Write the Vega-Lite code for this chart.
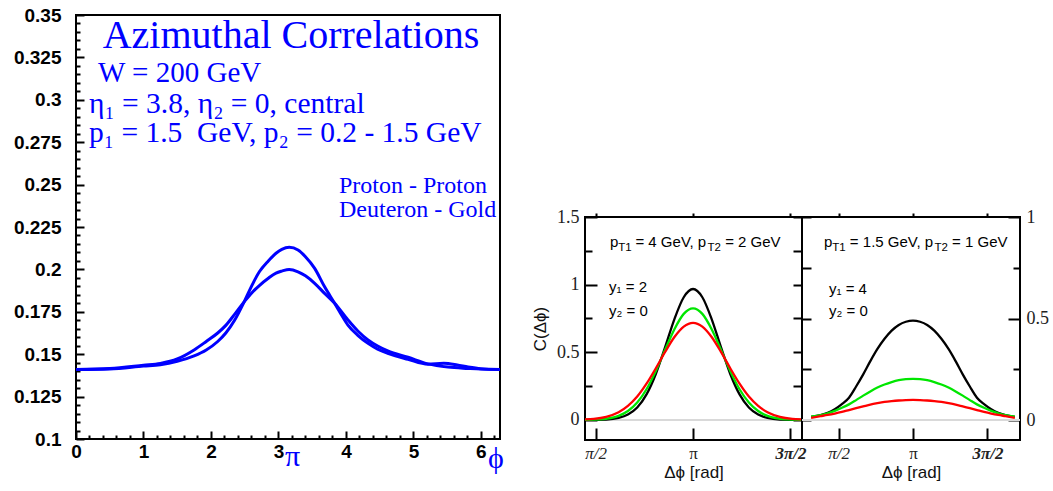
{
  "$schema": "https://vega.github.io/schema/vega-lite/v6.json",
  "background": "white",
  "padding": {"left": 12, "top": 5, "right": 0, "bottom": 0},
  "spacing": 23,
  "config": {
    "view": {"stroke": "black", "strokeWidth": 2},
    "axis": {"domain": false, "grid": false, "ticks": true, "tickOpacity": 1, "zindex": 1, "labelFlush": false, "labelOverlap": false, "tickColor": "black", "tickWidth": 2, "titleFontWeight": "normal", "titleColor": "#111"}
  },
  "datasets": {
    "left": [
      {"phi": 0, "v": 0.141, "s": "A"}, {"phi": 0.5, "v": 0.1413, "s": "A"}, {"phi": 1.0, "v": 0.143, "s": "A"}, {"phi": 1.25, "v": 0.1438, "s": "A"}, {"phi": 1.5, "v": 0.1458, "s": "A"}, {"phi": 1.75, "v": 0.149, "s": "A"}, {"phi": 1.93, "v": 0.1525, "s": "A"}, {"phi": 2.1, "v": 0.1575, "s": "A"}, {"phi": 2.22, "v": 0.1625, "s": "A"}, {"phi": 2.35, "v": 0.17, "s": "A"}, {"phi": 2.494, "v": 0.181, "s": "A"}, {"phi": 2.6, "v": 0.19, "s": "A"}, {"phi": 2.717, "v": 0.1986, "s": "A"}, {"phi": 2.85, "v": 0.205, "s": "A"}, {"phi": 2.964, "v": 0.2095, "s": "A"}, {"phi": 3.05, "v": 0.2118, "s": "A"}, {"phi": 3.16, "v": 0.213, "s": "A"}, {"phi": 3.29, "v": 0.2114, "s": "A"}, {"phi": 3.4, "v": 0.2075, "s": "A"}, {"phi": 3.537, "v": 0.2006, "s": "A"}, {"phi": 3.68, "v": 0.19, "s": "A"}, {"phi": 3.833, "v": 0.18, "s": "A"}, {"phi": 3.93, "v": 0.1735, "s": "A"}, {"phi": 4.03, "v": 0.1672, "s": "A"}, {"phi": 4.18, "v": 0.161, "s": "A"}, {"phi": 4.327, "v": 0.1564, "s": "A"}, {"phi": 4.47, "v": 0.153, "s": "A"}, {"phi": 4.62, "v": 0.1505, "s": "A"}, {"phi": 4.92, "v": 0.147, "s": "A"}, {"phi": 5.216, "v": 0.1441, "s": "A"}, {"phi": 5.45, "v": 0.1446, "s": "A"}, {"phi": 5.65, "v": 0.1436, "s": "A"}, {"phi": 5.81, "v": 0.1424, "s": "A"}, {"phi": 6.0, "v": 0.1414, "s": "A"}, {"phi": 6.283, "v": 0.141, "s": "A"},
      {"phi": 0, "v": 0.141, "s": "B"}, {"phi": 0.5, "v": 0.1415, "s": "B"}, {"phi": 1.0, "v": 0.1435, "s": "B"}, {"phi": 1.25, "v": 0.1446, "s": "B"}, {"phi": 1.5, "v": 0.1472, "s": "B"}, {"phi": 1.75, "v": 0.1525, "s": "B"}, {"phi": 1.93, "v": 0.1575, "s": "B"}, {"phi": 2.1, "v": 0.1625, "s": "B"}, {"phi": 2.22, "v": 0.167, "s": "B"}, {"phi": 2.35, "v": 0.1735, "s": "B"}, {"phi": 2.494, "v": 0.181, "s": "B"}, {"phi": 2.6, "v": 0.186, "s": "B"}, {"phi": 2.717, "v": 0.1905, "s": "B"}, {"phi": 2.85, "v": 0.1948, "s": "B"}, {"phi": 2.964, "v": 0.1978, "s": "B"}, {"phi": 3.05, "v": 0.199, "s": "B"}, {"phi": 3.16, "v": 0.2, "s": "B"}, {"phi": 3.29, "v": 0.1986, "s": "B"}, {"phi": 3.4, "v": 0.1962, "s": "B"}, {"phi": 3.537, "v": 0.1918, "s": "B"}, {"phi": 3.68, "v": 0.186, "s": "B"}, {"phi": 3.833, "v": 0.18, "s": "B"}, {"phi": 4.03, "v": 0.1702, "s": "B"}, {"phi": 4.18, "v": 0.1635, "s": "B"}, {"phi": 4.327, "v": 0.1584, "s": "B"}, {"phi": 4.47, "v": 0.1548, "s": "B"}, {"phi": 4.62, "v": 0.1519, "s": "B"}, {"phi": 4.92, "v": 0.1482, "s": "B"}, {"phi": 5.216, "v": 0.1443, "s": "B"}, {"phi": 5.513, "v": 0.1424, "s": "B"}, {"phi": 5.81, "v": 0.1416, "s": "B"}, {"phi": 6.0, "v": 0.1412, "s": "B"}, {"phi": 6.283, "v": 0.141, "s": "B"}
    ],
    "leftTitle": [{"phi": 3.186, "v": 0.3305, "t": "Azimuthal Correlations"}],
    "leftW": [{"phi": 0.326, "v": 0.3105, "t": "W = 200 GeV"}],
    "leftKin": [{"phi": 0.193, "v": 0.2922, "t": "η₁ = 3.8, η₂ = 0, central"}, {"phi": 0.193, "v": 0.2751, "t": "p₁ = 1.5\u00a0 GeV, p₂ = 0.2 - 1.5 GeV"}],
    "leftLeg": [{"phi": 3.897, "v": 0.245, "t": "Proton - Proton"}, {"phi": 3.897, "v": 0.2309, "t": "Deuteron - Gold"}],
    "leftSym": [{"phi": 3.211, "v": 0.0841, "t": "π"}, {"phi": 6.224, "v": 0.0829, "t": "ϕ"}],
    "r1": [
      {"phi": 1.4016, "c": 0.0, "curve": "black"}, {"phi": 1.5416, "c": 0.001, "curve": "black"}, {"phi": 1.7416, "c": 0.003, "curve": "black"}, {"phi": 1.9416, "c": 0.015, "curve": "black"}, {"phi": 2.0916, "c": 0.04, "curve": "black"}, {"phi": 2.2416, "c": 0.092, "curve": "black"}, {"phi": 2.3916, "c": 0.189, "curve": "black"}, {"phi": 2.5416, "c": 0.34, "curve": "black"}, {"phi": 2.6916, "c": 0.538, "curve": "black"}, {"phi": 2.8416, "c": 0.746, "curve": "black"}, {"phi": 2.9916, "c": 0.907, "curve": "black"}, {"phi": 3.1416, "c": 0.968, "curve": "black"}, {"phi": 3.2916, "c": 0.907, "curve": "black"}, {"phi": 3.4416, "c": 0.746, "curve": "black"}, {"phi": 3.5916, "c": 0.538, "curve": "black"}, {"phi": 3.7416, "c": 0.34, "curve": "black"}, {"phi": 3.8916, "c": 0.189, "curve": "black"}, {"phi": 4.0416, "c": 0.092, "curve": "black"}, {"phi": 4.1916, "c": 0.04, "curve": "black"}, {"phi": 4.3416, "c": 0.015, "curve": "black"}, {"phi": 4.5416, "c": 0.003, "curve": "black"}, {"phi": 4.7416, "c": 0.001, "curve": "black"}, {"phi": 4.8816, "c": 0.0, "curve": "black"},
      {"phi": 1.4016, "c": 0.001, "curve": "green"}, {"phi": 1.5416, "c": 0.002, "curve": "green"}, {"phi": 1.7416, "c": 0.009, "curve": "green"}, {"phi": 1.9416, "c": 0.03, "curve": "green"}, {"phi": 2.0916, "c": 0.066, "curve": "green"}, {"phi": 2.2416, "c": 0.129, "curve": "green"}, {"phi": 2.3916, "c": 0.227, "curve": "green"}, {"phi": 2.5416, "c": 0.361, "curve": "green"}, {"phi": 2.6916, "c": 0.519, "curve": "green"}, {"phi": 2.8416, "c": 0.671, "curve": "green"}, {"phi": 2.9916, "c": 0.784, "curve": "green"}, {"phi": 3.1416, "c": 0.825, "curve": "green"}, {"phi": 3.2916, "c": 0.784, "curve": "green"}, {"phi": 3.4416, "c": 0.671, "curve": "green"}, {"phi": 3.5916, "c": 0.519, "curve": "green"}, {"phi": 3.7416, "c": 0.361, "curve": "green"}, {"phi": 3.8916, "c": 0.227, "curve": "green"}, {"phi": 4.0416, "c": 0.129, "curve": "green"}, {"phi": 4.1916, "c": 0.066, "curve": "green"}, {"phi": 4.3416, "c": 0.03, "curve": "green"}, {"phi": 4.5416, "c": 0.009, "curve": "green"}, {"phi": 4.7416, "c": 0.002, "curve": "green"}, {"phi": 4.8816, "c": 0.001, "curve": "green"},
      {"phi": 1.4016, "c": 0.004, "curve": "red"}, {"phi": 1.5416, "c": 0.008, "curve": "red"}, {"phi": 1.7416, "c": 0.023, "curve": "red"}, {"phi": 1.9416, "c": 0.057, "curve": "red"}, {"phi": 2.0916, "c": 0.104, "curve": "red"}, {"phi": 2.2416, "c": 0.173, "curve": "red"}, {"phi": 2.3916, "c": 0.268, "curve": "red"}, {"phi": 2.5416, "c": 0.382, "curve": "red"}, {"phi": 2.6916, "c": 0.503, "curve": "red"}, {"phi": 2.8416, "c": 0.613, "curve": "red"}, {"phi": 2.9916, "c": 0.69, "curve": "red"}, {"phi": 3.1416, "c": 0.718, "curve": "red"}, {"phi": 3.2916, "c": 0.69, "curve": "red"}, {"phi": 3.4416, "c": 0.613, "curve": "red"}, {"phi": 3.5916, "c": 0.503, "curve": "red"}, {"phi": 3.7416, "c": 0.382, "curve": "red"}, {"phi": 3.8916, "c": 0.268, "curve": "red"}, {"phi": 4.0416, "c": 0.173, "curve": "red"}, {"phi": 4.1916, "c": 0.104, "curve": "red"}, {"phi": 4.3416, "c": 0.057, "curve": "red"}, {"phi": 4.5416, "c": 0.023, "curve": "red"}, {"phi": 4.7416, "c": 0.008, "curve": "red"}, {"phi": 4.8816, "c": 0.004, "curve": "red"}
    ],
    "r1a": [{"phi": 1.804, "c": 1.278, "t": "p"}, {"phi": 2.213, "c": 1.278, "t": "= 4 GeV, p"}, {"phi": 3.659, "c": 1.278, "t": "= 2 GeV"}],
    "r1s": [{"phi": 1.937, "c": 1.248, "t": "T1"}, {"phi": 3.375, "c": 1.248, "t": "T2"}],
    "r1b": [{"phi": 1.788, "c": 0.948, "t": "y₁ = 2"}, {"phi": 1.788, "c": 0.77, "t": "y₂ = 0"}],
    "r2": [
      {"phi": 0.9916, "c": 0.015, "curve": "black"}, {"phi": 1.1916, "c": 0.024, "curve": "black"}, {"phi": 1.3416, "c": 0.035, "curve": "black"}, {"phi": 1.4916, "c": 0.053, "curve": "black"}, {"phi": 1.6416, "c": 0.078, "curve": "black"}, {"phi": 1.7916, "c": 0.11, "curve": "black"}, {"phi": 1.9416, "c": 0.165, "curve": "black"}, {"phi": 2.0916, "c": 0.225, "curve": "black"}, {"phi": 2.2416, "c": 0.29, "curve": "black"}, {"phi": 2.3916, "c": 0.35, "curve": "black"}, {"phi": 2.5416, "c": 0.4, "curve": "black"}, {"phi": 2.6916, "c": 0.44, "curve": "black"}, {"phi": 2.8416, "c": 0.468, "curve": "black"}, {"phi": 2.9916, "c": 0.484, "curve": "black"}, {"phi": 3.1416, "c": 0.49, "curve": "black"}, {"phi": 3.2916, "c": 0.484, "curve": "black"}, {"phi": 3.4416, "c": 0.468, "curve": "black"}, {"phi": 3.5916, "c": 0.44, "curve": "black"}, {"phi": 3.7416, "c": 0.4, "curve": "black"}, {"phi": 3.8916, "c": 0.35, "curve": "black"}, {"phi": 4.0416, "c": 0.29, "curve": "black"}, {"phi": 4.1916, "c": 0.225, "curve": "black"}, {"phi": 4.3416, "c": 0.165, "curve": "black"}, {"phi": 4.4916, "c": 0.11, "curve": "black"}, {"phi": 4.6416, "c": 0.078, "curve": "black"}, {"phi": 4.7916, "c": 0.053, "curve": "black"}, {"phi": 4.9416, "c": 0.035, "curve": "black"}, {"phi": 5.0916, "c": 0.024, "curve": "black"}, {"phi": 5.2916, "c": 0.015, "curve": "black"},
      {"phi": 0.9916, "c": 0.016, "curve": "green"}, {"phi": 1.1916, "c": 0.024, "curve": "green"}, {"phi": 1.3416, "c": 0.033, "curve": "green"}, {"phi": 1.4916, "c": 0.045, "curve": "green"}, {"phi": 1.6416, "c": 0.06, "curve": "green"}, {"phi": 1.7916, "c": 0.077, "curve": "green"}, {"phi": 1.9416, "c": 0.098, "curve": "green"}, {"phi": 2.0916, "c": 0.12, "curve": "green"}, {"phi": 2.2416, "c": 0.141, "curve": "green"}, {"phi": 2.3916, "c": 0.16, "curve": "green"}, {"phi": 2.5416, "c": 0.175, "curve": "green"}, {"phi": 2.6916, "c": 0.187, "curve": "green"}, {"phi": 2.8416, "c": 0.196, "curve": "green"}, {"phi": 2.9916, "c": 0.201, "curve": "green"}, {"phi": 3.1416, "c": 0.203, "curve": "green"}, {"phi": 3.2916, "c": 0.201, "curve": "green"}, {"phi": 3.4416, "c": 0.196, "curve": "green"}, {"phi": 3.5916, "c": 0.187, "curve": "green"}, {"phi": 3.7416, "c": 0.175, "curve": "green"}, {"phi": 3.8916, "c": 0.16, "curve": "green"}, {"phi": 4.0416, "c": 0.141, "curve": "green"}, {"phi": 4.1916, "c": 0.12, "curve": "green"}, {"phi": 4.3416, "c": 0.098, "curve": "green"}, {"phi": 4.4916, "c": 0.077, "curve": "green"}, {"phi": 4.6416, "c": 0.06, "curve": "green"}, {"phi": 4.7916, "c": 0.045, "curve": "green"}, {"phi": 4.9416, "c": 0.033, "curve": "green"}, {"phi": 5.0916, "c": 0.024, "curve": "green"}, {"phi": 5.2916, "c": 0.016, "curve": "green"},
      {"phi": 0.9916, "c": 0.011, "curve": "red"}, {"phi": 1.1916, "c": 0.019, "curve": "red"}, {"phi": 1.3416, "c": 0.025, "curve": "red"}, {"phi": 1.4916, "c": 0.032, "curve": "red"}, {"phi": 1.6416, "c": 0.04, "curve": "red"}, {"phi": 1.7916, "c": 0.049, "curve": "red"}, {"phi": 1.9416, "c": 0.058, "curve": "red"}, {"phi": 2.0916, "c": 0.067, "curve": "red"}, {"phi": 2.2416, "c": 0.076, "curve": "red"}, {"phi": 2.3916, "c": 0.083, "curve": "red"}, {"phi": 2.5416, "c": 0.089, "curve": "red"}, {"phi": 2.6916, "c": 0.093, "curve": "red"}, {"phi": 2.8416, "c": 0.096, "curve": "red"}, {"phi": 2.9916, "c": 0.098, "curve": "red"}, {"phi": 3.1416, "c": 0.099, "curve": "red"}, {"phi": 3.2916, "c": 0.098, "curve": "red"}, {"phi": 3.4416, "c": 0.096, "curve": "red"}, {"phi": 3.5916, "c": 0.093, "curve": "red"}, {"phi": 3.7416, "c": 0.089, "curve": "red"}, {"phi": 3.8916, "c": 0.083, "curve": "red"}, {"phi": 4.0416, "c": 0.076, "curve": "red"}, {"phi": 4.1916, "c": 0.067, "curve": "red"}, {"phi": 4.3416, "c": 0.058, "curve": "red"}, {"phi": 4.4916, "c": 0.049, "curve": "red"}, {"phi": 4.6416, "c": 0.04, "curve": "red"}, {"phi": 4.7916, "c": 0.032, "curve": "red"}, {"phi": 4.9416, "c": 0.025, "curve": "red"}, {"phi": 5.0916, "c": 0.019, "curve": "red"}, {"phi": 5.2916, "c": 0.011, "curve": "red"}
    ],
    "r2a": [{"phi": 1.264, "c": 0.851, "t": "p"}, {"phi": 1.81, "c": 0.851, "t": "= 1.5 GeV, p"}, {"phi": 3.967, "c": 0.851, "t": "= 1 GeV"}],
    "r2s": [{"phi": 1.439, "c": 0.831, "t": "T1"}, {"phi": 3.596, "c": 0.831, "t": "T2"}],
    "r2b": [{"phi": 1.369, "c": 0.619, "t": "y₁ = 4"}, {"phi": 1.369, "c": 0.51, "t": "y₂ = 0"}]
  },
  "hconcat": [
    {
      "width": 424,
      "height": 424,
      "layer": [
        {
          "data": {"name": "left"},
          "mark": {"type": "line", "color": "#0000ff", "strokeWidth": 3, "interpolate": "monotone"},
          "encoding": {
            "x": {"field": "phi", "type": "quantitative", "scale": {"domain": [0, 6.2832], "nice": false, "zero": false},
                  "axis": {"values": [0, 1, 2, 3, 4, 5, 6], "format": "d", "ticks": true, "tickSize": -8, "labelPadding": 11, "labelFont": "Liberation Sans", "labelFontSize": 19, "labelFontWeight": "bold", "labelColor": "#000", "title": null}},
            "y": {"field": "v", "type": "quantitative", "scale": {"domain": [0.1, 0.35], "nice": false, "zero": false},
                  "axis": {"values": [0.1, 0.125, 0.15, 0.175, 0.2, 0.225, 0.25, 0.275, 0.3, 0.325, 0.35], "labelExpr": "toString(datum.value)", "ticks": true, "tickSize": -8, "labelPadding": 23, "labelFont": "Liberation Sans", "labelFontSize": 19, "labelFontWeight": "bold", "labelColor": "#000", "title": null}},
            "detail": {"field": "s", "type": "nominal"}
          }
        },
        {
          "data": {"name": "leftTitle"},
          "mark": {"type": "text", "align": "center", "baseline": "alphabetic", "font": "Liberation Serif", "fontSize": 40, "color": "#0000ff"},
          "encoding": {
            "x": {"field": "phi", "type": "quantitative", "scale": {"domain": [0, 6.2832], "nice": false, "zero": false},
                  "axis": {"orient": "bottom", "values": [0.2, 0.4, 0.6, 0.8, 1.2, 1.4, 1.6, 1.8, 2.2, 2.4, 2.6, 2.8, 3.2, 3.4, 3.6, 3.8, 4.2, 4.4, 4.6, 4.8, 5.2, 5.4, 5.6, 5.8, 6.2], "labels": false, "ticks": true, "tickSize": -4, "title": null}},
            "y": {"field": "v", "type": "quantitative", "scale": {"domain": [0.1, 0.35], "nice": false, "zero": false},
                  "axis": {"orient": "left", "values": [0.105, 0.11, 0.115, 0.12, 0.13, 0.135, 0.14, 0.145, 0.155, 0.16, 0.165, 0.17, 0.18, 0.185, 0.19, 0.195, 0.205, 0.21, 0.215, 0.22, 0.23, 0.235, 0.24, 0.245, 0.255, 0.26, 0.265, 0.27, 0.28, 0.285, 0.29, 0.295, 0.305, 0.31, 0.315, 0.32, 0.33, 0.335, 0.34, 0.345], "labels": false, "ticks": true, "tickSize": -4, "title": null}},
            "text": {"field": "t"}
          }
        },
        {
          "data": {"name": "leftW"},
          "mark": {"type": "text", "align": "left", "baseline": "alphabetic", "font": "Liberation Serif", "fontSize": 29, "color": "#0000ff"},
          "encoding": {
            "x": {"field": "phi", "type": "quantitative", "scale": {"domain": [0, 6.2832], "nice": false, "zero": false}, "axis": null},
            "y": {"field": "v", "type": "quantitative", "scale": {"domain": [0.1, 0.35], "nice": false, "zero": false}, "axis": null},
            "text": {"field": "t"}
          }
        },
        {
          "data": {"name": "leftKin"},
          "mark": {"type": "text", "align": "left", "baseline": "alphabetic", "font": "Liberation Serif", "fontSize": 29.5, "color": "#0000ff"},
          "encoding": {
            "x": {"field": "phi", "type": "quantitative", "scale": {"domain": [0, 6.2832], "nice": false, "zero": false}, "axis": null},
            "y": {"field": "v", "type": "quantitative", "scale": {"domain": [0.1, 0.35], "nice": false, "zero": false}, "axis": null},
            "text": {"field": "t"}
          }
        },
        {
          "data": {"name": "leftLeg"},
          "mark": {"type": "text", "align": "left", "baseline": "alphabetic", "font": "Liberation Serif", "fontSize": 24, "color": "#0000ff"},
          "encoding": {
            "x": {"field": "phi", "type": "quantitative", "scale": {"domain": [0, 6.2832], "nice": false, "zero": false}, "axis": null},
            "y": {"field": "v", "type": "quantitative", "scale": {"domain": [0.1, 0.35], "nice": false, "zero": false}, "axis": null},
            "text": {"field": "t"}
          }
        },
        {
          "data": {"name": "leftSym"},
          "mark": {"type": "text", "align": "center", "baseline": "alphabetic", "font": "Liberation Serif", "fontSize": 30, "color": "#0000ff"},
          "encoding": {
            "x": {"field": "phi", "type": "quantitative", "scale": {"domain": [0, 6.2832], "nice": false, "zero": false}, "axis": null},
            "y": {"field": "v", "type": "quantitative", "scale": {"domain": [0.1, 0.35], "nice": false, "zero": false}, "axis": null},
            "text": {"field": "t"}
          }
        }
      ],
      "resolve": {"axis": {"x": "independent", "y": "independent"}}
    },
    {
      "spacing": 0,
      "vconcat": [
        {
          "width": 1,
          "height": 192,
          "view": {"stroke": null},
          "data": {"values": [{}]},
          "mark": {"type": "point", "opacity": 0},
          "encoding": {}
        },
        {
          "spacing": 0,
          "bounds": "flush",
          "hconcat": [
            {
              "width": 217,
              "height": 223,
              "layer": [
                {
                  "data": {"values": [{}]},
                  "mark": {"type": "rule", "color": "#d9d9d9", "strokeWidth": 2},
                  "encoding": {
                    "y": {"datum": 0, "type": "quantitative", "scale": {"domain": [-0.148, 1.5], "nice": false, "zero": false},
                          "axis": {"orient": "right", "values": [0, 0.25, 0.5, 0.75, 1, 1.25, 1.5], "labels": false, "ticks": true, "tickSize": -9, "title": null}}
                  }
                },
                {
                  "data": {"name": "r1"},
                  "mark": {"type": "line", "strokeWidth": 2.3, "interpolate": "monotone"},
                  "encoding": {
                    "x": {"field": "phi", "type": "quantitative", "scale": {"domain": [1.4, 4.898], "nice": false, "zero": false},
                          "axis": {"orient": "bottom", "values": [1.5708, 3.1416, 4.7124], "labelExpr": "datum.value < 2 ? 'π/2' : (datum.value < 4 ? 'π' : '3π/2')", "ticks": true, "tickSize": -12, "labelPadding": 17, "labelFont": "Liberation Serif", "labelFontSize": 17, "labelColor": "#222", "labelFontStyle": {"condition": {"test": "abs(datum.value - 3.1416) > 0.01", "value": "italic"}, "value": "normal"}, "labelFontWeight": {"condition": {"test": "datum.value > 4", "value": "bold"}, "value": "normal"}, "title": "Δϕ [rad]", "titleFont": "Liberation Sans", "titleFontSize": 17, "titlePadding": 3}},
                    "y": {"field": "c", "type": "quantitative", "scale": {"domain": [-0.148, 1.5], "nice": false, "zero": false},
                          "axis": {"orient": "left", "values": [0, 0.5, 1, 1.5], "labelExpr": "format(datum.value, '~g')", "ticks": true, "tickSize": -12, "labelPadding": 18, "labelFont": "Liberation Serif", "labelFontSize": 18, "labelColor": "#222", "title": "C(Δϕ)", "titleFont": "Liberation Sans", "titleFontSize": 17, "titlePadding": 7}},
                    "color": {"field": "curve", "type": "nominal", "scale": {"domain": ["black", "green", "red"], "range": ["#000000", "#00e600", "#ff0000"]}, "legend": null}
                  }
                },
                {
                  "data": {"name": "r1a"},
                  "mark": {"type": "text", "align": "left", "baseline": "alphabetic", "font": "Liberation Sans", "fontSize": 15, "color": "#000"},
                  "encoding": {
                    "x": {"field": "phi", "type": "quantitative", "scale": {"domain": [1.4, 4.898], "nice": false, "zero": false},
                          "axis": {"orient": "top", "values": [1.5708, 3.1416, 4.7124], "labels": false, "ticks": true, "tickSize": 4, "title": null}},
                    "y": {"field": "c", "type": "quantitative", "scale": {"domain": [-0.148, 1.5], "nice": false, "zero": false},
                          "axis": {"orient": "left", "values": [0.25, 0.75, 1.25], "labels": false, "ticks": true, "tickSize": -7, "title": null}},
                    "text": {"field": "t"}
                  }
                },
                {
                  "data": {"name": "r1s"},
                  "mark": {"type": "text", "align": "left", "baseline": "alphabetic", "font": "Liberation Sans", "fontSize": 11.5, "color": "#000"},
                  "encoding": {
                    "x": {"field": "phi", "type": "quantitative", "scale": {"domain": [1.4, 4.898], "nice": false, "zero": false}, "axis": null},
                    "y": {"field": "c", "type": "quantitative", "scale": {"domain": [-0.148, 1.5], "nice": false, "zero": false}, "axis": null},
                    "text": {"field": "t"}
                  }
                },
                {
                  "data": {"name": "r1b"},
                  "mark": {"type": "text", "align": "left", "baseline": "alphabetic", "font": "Liberation Sans", "fontSize": 15, "color": "#000"},
                  "encoding": {
                    "x": {"field": "phi", "type": "quantitative", "scale": {"domain": [1.4, 4.898], "nice": false, "zero": false}, "axis": null},
                    "y": {"field": "c", "type": "quantitative", "scale": {"domain": [-0.148, 1.5], "nice": false, "zero": false}, "axis": null},
                    "text": {"field": "t"}
                  }
                }
              ],
              "resolve": {"axis": {"x": "independent", "y": "independent"}}
            },
            {
              "width": 218,
              "height": 223,
              "layer": [
                {
                  "data": {"values": [{}]},
                  "mark": {"type": "rule", "color": "#d9d9d9", "strokeWidth": 2},
                  "encoding": {
                    "y": {"datum": 0, "type": "quantitative", "scale": {"domain": [-0.0985, 1.0], "nice": false, "zero": false},
                          "axis": {"orient": "left", "values": [0, 0.25, 0.5, 0.75, 1], "labels": false, "ticks": true, "tickSize": -9, "title": null}}
                  }
                },
                {
                  "data": {"name": "r2"},
                  "mark": {"type": "line", "strokeWidth": 2.3, "interpolate": "monotone"},
                  "encoding": {
                    "x": {"field": "phi", "type": "quantitative", "scale": {"domain": [0.8, 5.4], "nice": false, "zero": false},
                          "axis": {"orient": "bottom", "values": [1.5708, 3.1416, 4.7124], "labelExpr": "datum.value < 2 ? 'π/2' : (datum.value < 4 ? 'π' : '3π/2')", "ticks": true, "tickSize": -12, "labelPadding": 17, "labelFont": "Liberation Serif", "labelFontSize": 17, "labelColor": "#222", "labelFontStyle": {"condition": {"test": "abs(datum.value - 3.1416) > 0.01", "value": "italic"}, "value": "normal"}, "labelFontWeight": {"condition": {"test": "datum.value > 4", "value": "bold"}, "value": "normal"}, "title": "Δϕ [rad]", "titleFont": "Liberation Sans", "titleFontSize": 17, "titlePadding": 3}},
                    "y": {"field": "c", "type": "quantitative", "scale": {"domain": [-0.0985, 1.0], "nice": false, "zero": false},
                          "axis": {"orient": "right", "values": [0, 0.5, 1], "labelExpr": "format(datum.value, '~g')", "ticks": true, "tickSize": -12, "labelPadding": 18, "labelFont": "Liberation Serif", "labelFontSize": 18, "labelColor": "#222", "title": null}},
                    "color": {"field": "curve", "type": "nominal", "scale": {"domain": ["black", "green", "red"], "range": ["#000000", "#00e600", "#ff0000"]}, "legend": null}
                  }
                },
                {
                  "data": {"name": "r2a"},
                  "mark": {"type": "text", "align": "left", "baseline": "alphabetic", "font": "Liberation Sans", "fontSize": 15, "color": "#000"},
                  "encoding": {
                    "x": {"field": "phi", "type": "quantitative", "scale": {"domain": [0.8, 5.4], "nice": false, "zero": false},
                          "axis": {"orient": "top", "values": [1.5708, 3.1416, 4.7124], "labels": false, "ticks": true, "tickSize": 4, "title": null}},
                    "y": {"field": "c", "type": "quantitative", "scale": {"domain": [-0.0985, 1.0], "nice": false, "zero": false},
                          "axis": {"orient": "right", "values": [0.25, 0.75], "labels": false, "ticks": true, "tickSize": -7, "title": null}},
                    "text": {"field": "t"}
                  }
                },
                {
                  "data": {"name": "r2s"},
                  "mark": {"type": "text", "align": "left", "baseline": "alphabetic", "font": "Liberation Sans", "fontSize": 11.5, "color": "#000"},
                  "encoding": {
                    "x": {"field": "phi", "type": "quantitative", "scale": {"domain": [0.8, 5.4], "nice": false, "zero": false}, "axis": null},
                    "y": {"field": "c", "type": "quantitative", "scale": {"domain": [-0.0985, 1.0], "nice": false, "zero": false}, "axis": null},
                    "text": {"field": "t"}
                  }
                },
                {
                  "data": {"name": "r2b"},
                  "mark": {"type": "text", "align": "left", "baseline": "alphabetic", "font": "Liberation Sans", "fontSize": 15, "color": "#000"},
                  "encoding": {
                    "x": {"field": "phi", "type": "quantitative", "scale": {"domain": [0.8, 5.4], "nice": false, "zero": false}, "axis": null},
                    "y": {"field": "c", "type": "quantitative", "scale": {"domain": [-0.0985, 1.0], "nice": false, "zero": false}, "axis": null},
                    "text": {"field": "t"}
                  }
                }
              ],
              "resolve": {"axis": {"x": "independent", "y": "independent"}}
            }
          ]
        }
      ]
    }
  ]
}
